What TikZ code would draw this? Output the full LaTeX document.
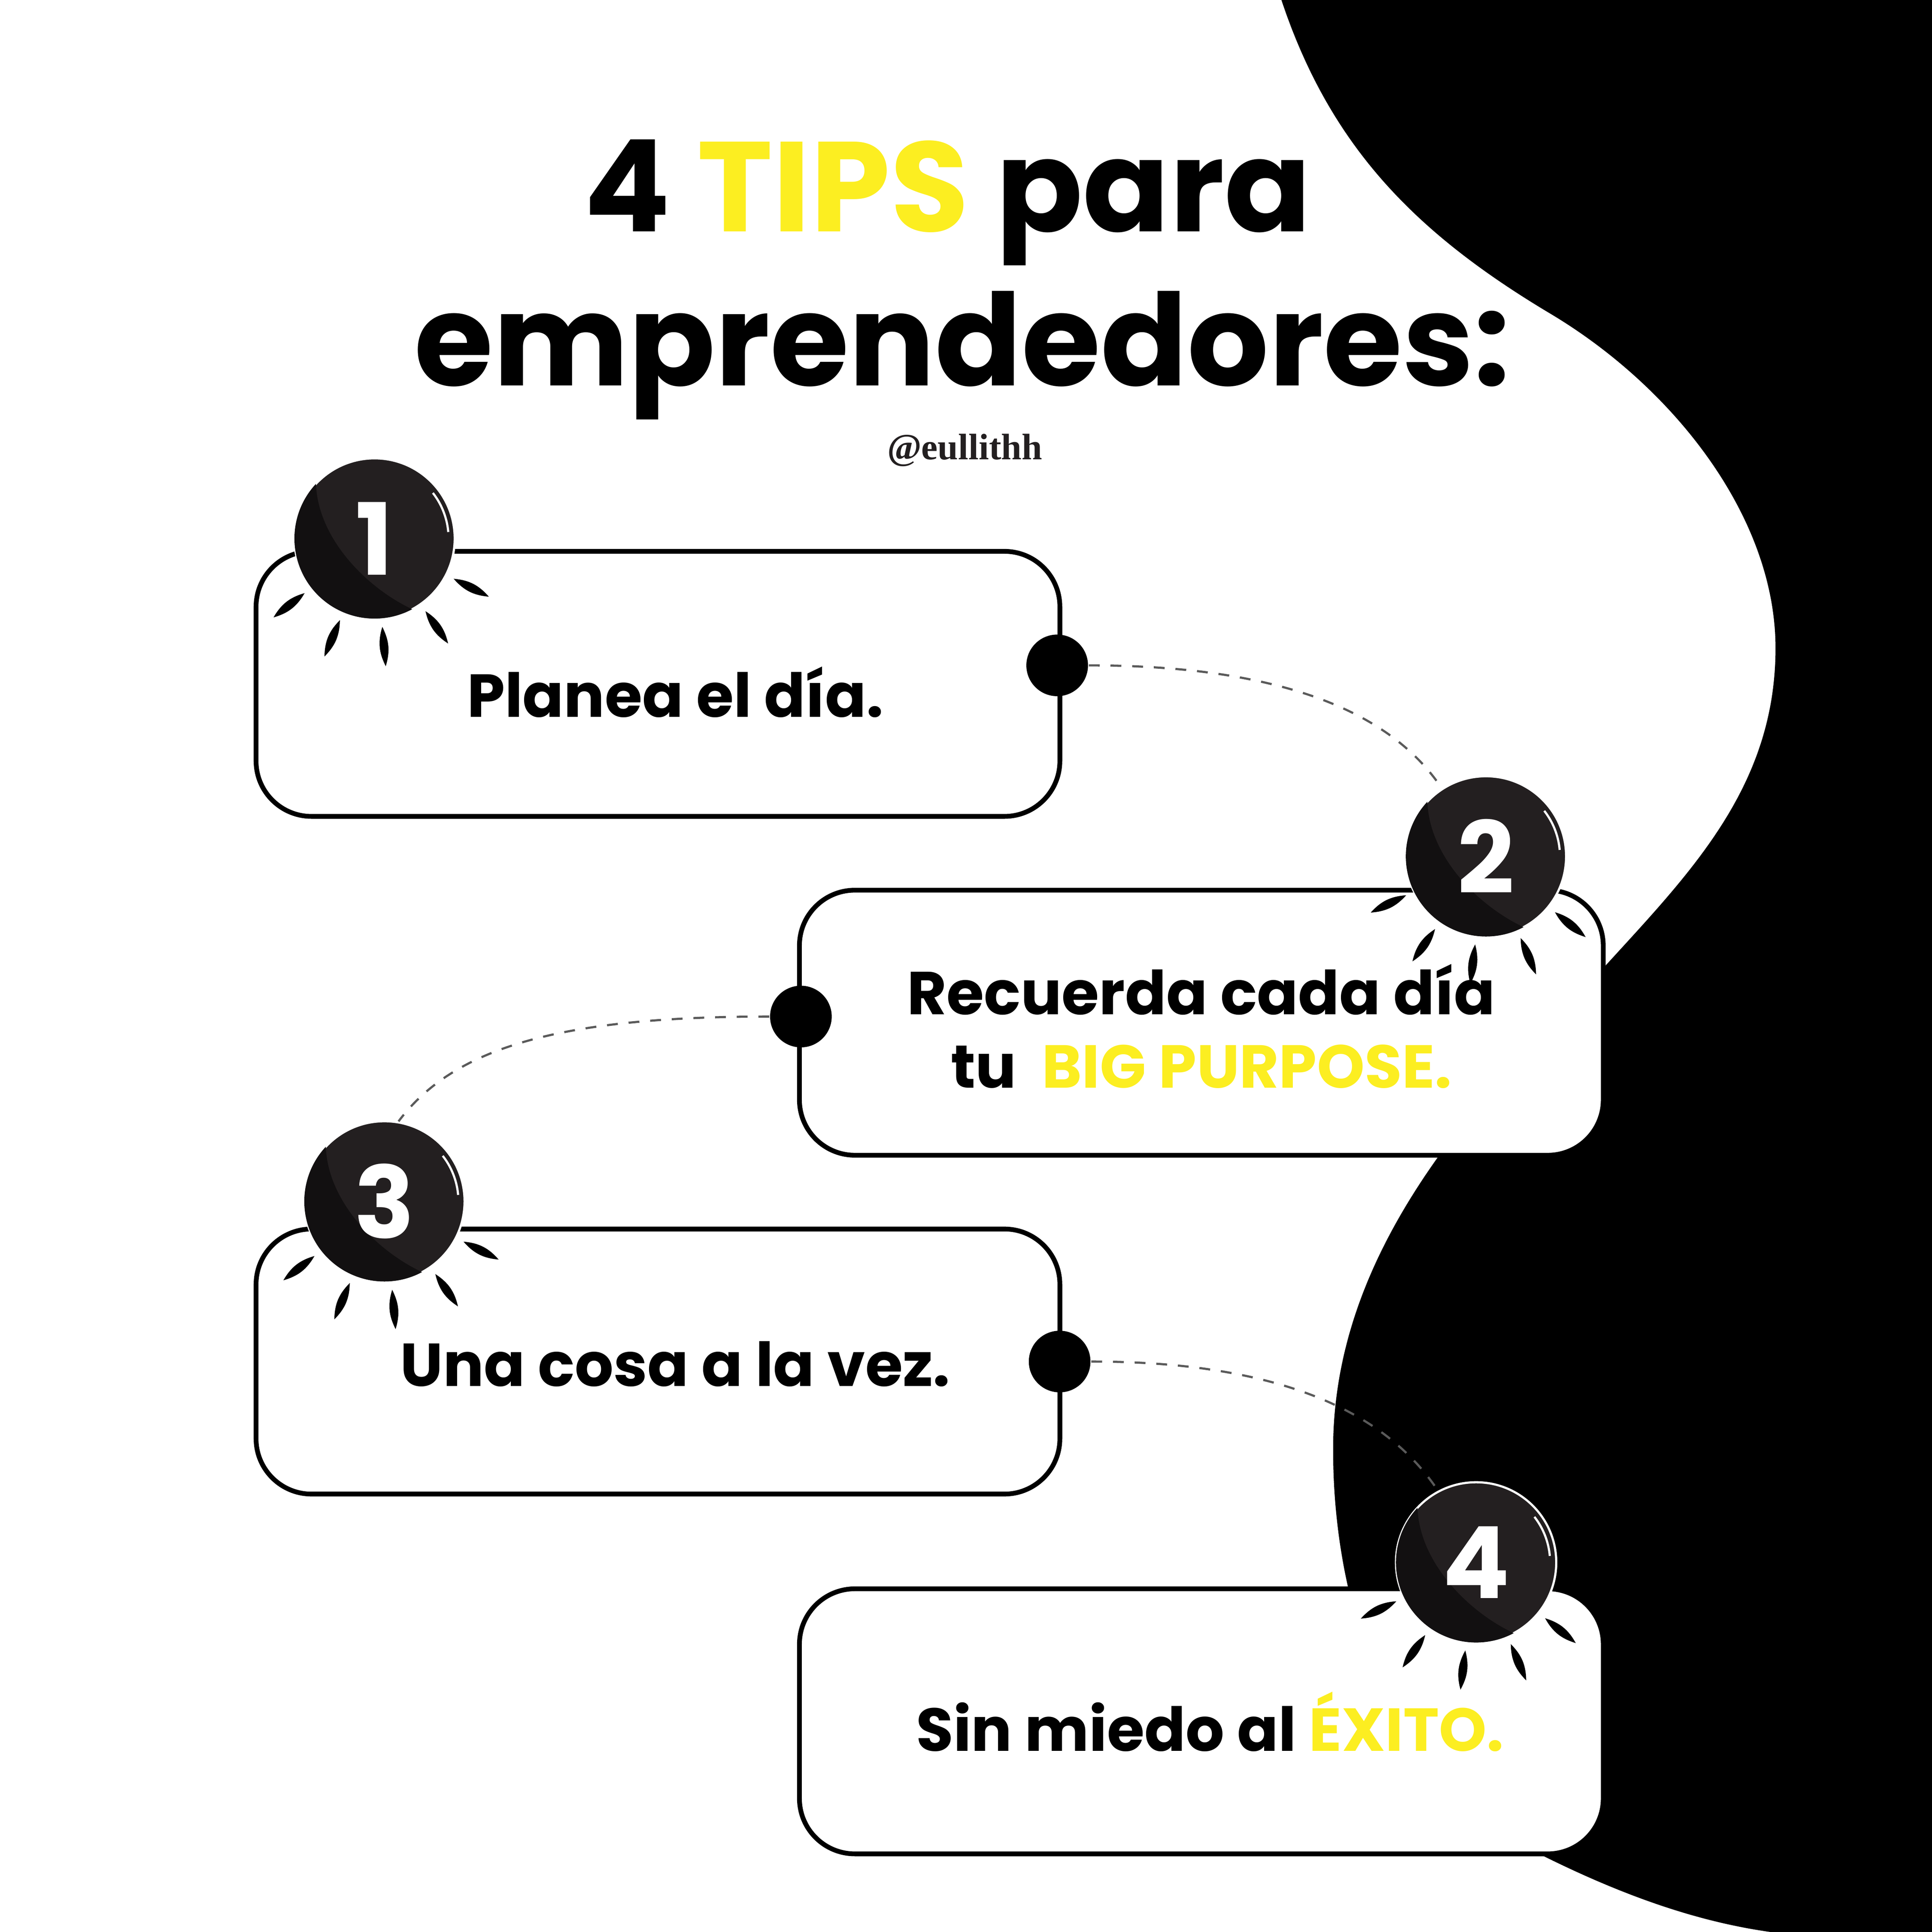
\documentclass[tikz,border=0pt]{standalone}
\usepackage{fontspec}
\setmainfont{Poppins}
\newfontfamily\handlefont{Liberation Serif}
\usetikzlibrary{calc}
\definecolor{tipyellow}{HTML}{FCEE21}
\definecolor{badgegray}{HTML}{231F20}
\definecolor{badgedark}{HTML}{121011}
\definecolor{dashgray}{HTML}{5A5A5A}
\tikzset{
  tipbox/.style={draw=black, line width=1.1pt, fill=white, rounded corners=0.45cm,
    minimum width=6.52cm, minimum height=2.15cm, inner sep=0pt},
  tiptext/.style={font=\bfseries\fontsize{14pt}{17pt}\selectfont, anchor=base, align=center},
  titletext/.style={font=\bfseries\fontsize{29.5pt}{34pt}\selectfont, anchor=base},
  badge/.style={circle, fill=badgegray, draw=white, line width=0.5pt, minimum size=1.3cm, inner sep=0pt},
  joint/.style={circle, fill=black, minimum size=0.5cm, inner sep=0pt},
  link/.style={dashgray, dash pattern=on 2.5pt off 2.5pt, line width=0.5pt}
}
\begin{document}
\begin{tikzpicture}[x=0.01cm,y=0.01cm]
\useasboundingbox (0,0) rectangle (1568,-1568);
\fill[white] (0,0) rectangle (1568,-1568);
% black wave
\fill[black] (1040,0) .. controls (1080,-120) and (1150,-190) .. (1259,-255)
  .. controls (1359,-315) and (1441,-420) .. (1441,-526)
  .. controls (1441,-640) and (1370,-710) .. (1300,-787)
  .. controls (1200,-890) and (1085,-1010) .. (1082,-1170)
  .. controls (1080,-1330) and (1150,-1470) .. (1250,-1505)
  .. controls (1320,-1540) and (1380,-1560) .. (1437,-1568)
  -- (1568,-1568) -- (1568,0) -- cycle;

\node[titletext] (title1) at (769,-188) {4 \textcolor{tipyellow}{TIPS} para};
\node[titletext] (title2) at (781,-313) {emprendedores:};
\node[font=\handlefont\bfseries\fontsize{8.5pt}{10pt}\selectfont, anchor=base, text=badgegray] (handle) at (783,-373) {@eullithh};

\node[tipbox] (box1) at (534,-555) {};
\node[tipbox] (box2) at (975,-830) {};
\node[tipbox] (box3) at (534,-1105) {};
\node[tipbox] (box4) at (975,-1397) {};

\node[joint] (j1) at (858,-540) {};
\node[joint] (j2) at (650,-825) {};
\node[joint] (j3) at (860,-1105) {};

\foreach \n/\bx/\by/\r in {1/304/-437/5,2/1206/-695/-7,3/312/-975/5,4/1198/-1268/-7}{
  \node[badge] (b\n) at (\bx,\by) {};
  \begin{scope}
    \clip (b\n.center) circle (0.65cm);
    \fill[badgedark] ($(b\n.center)+(137:0.65cm)$) .. controls +(-88:0.45cm) and +(155:0.4cm) ..
      ($(b\n.center)+(-62:0.65cm)$) arc[start angle=-62, end angle=-223, radius=0.65cm] -- cycle;
  \end{scope}
  \draw[white, line width=0.5pt] ($(b\n.center)+(5:0.6cm)$) arc[start angle=5, end angle=38, radius=0.6cm];
  \node[font=\bfseries\fontsize{23pt}{23pt}\selectfont, text=white] (n\n) at (b\n.center) {\n};
  \foreach \a in {-147,-118,-90,-60,-32}
    \fill ($(b\n.center)+(\a+\r:0.72cm)$) to[bend left=22] ($(b\n.center)+(\a+\r:1.04cm)$)
      to[bend left=22] ($(b\n.center)+(\a+\r:0.72cm)$);
}

\draw[link] (j1.east) .. controls +(160,0) and +(-40,60) .. (b2.123);
\draw[link] (j2.west) .. controls +(-170,0) and +(45,60) .. (b3.80);
\draw[link] (j3.east) .. controls +(160,0) and +(-40,60) .. (b4.118);

\node[tiptext] (tip1) at (548,-582) {Planea el día.};
\node[tiptext] (tip2) at (975,-883) {Recuerda cada día\\tu\ \ \textcolor{tipyellow}{BIG PURPOSE.}};
\node[tiptext] (tip3) at (548,-1125) {Una cosa a la vez.};
\node[tiptext] (tip4) at (982,-1421) {Sin miedo al \textcolor{tipyellow}{ÉXITO.}};
\end{tikzpicture}
\end{document}
